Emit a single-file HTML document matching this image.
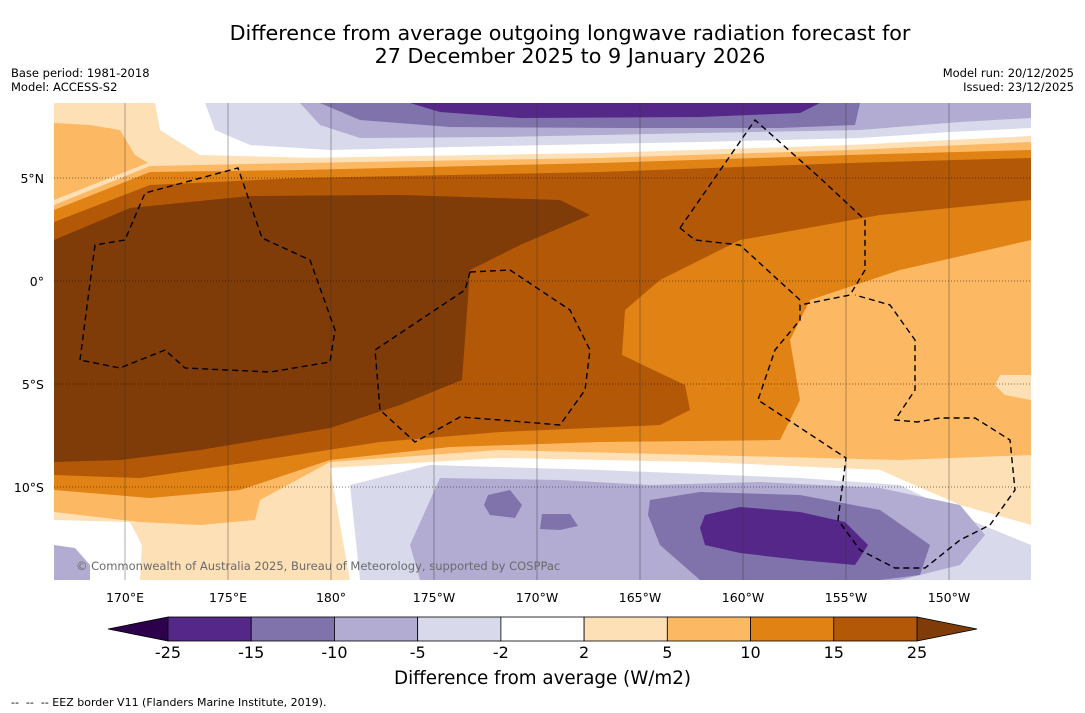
<!DOCTYPE html>
<html><head><meta charset="utf-8">
<style>
body{margin:0;background:#fff;font-family:"DejaVu Sans","Liberation Sans",sans-serif;}
#wrap{position:relative;width:1085px;height:713px;overflow:hidden;background:#fff;}
.t{position:absolute;white-space:nowrap;color:#000;}
svg text{font-family:"DejaVu Sans","Liberation Sans",sans-serif;}
</style></head><body>
<div id="wrap">
<div class="t" style="left:0;width:1140px;top:22px;text-align:center;font-size:20.7px;line-height:23px;">Difference from average outgoing longwave radiation forecast for<br>27 December 2025 to 9 January 2026</div>
<div class="t" style="left:11px;top:66px;font-size:11.5px;line-height:14px;">Base period: 1981-2018<br>Model: ACCESS-S2</div>
<div class="t" style="right:11px;top:66px;font-size:11.5px;line-height:14px;text-align:right;">Model run: 20/12/2025<br>Issued: 23/12/2025</div>
<svg id="map" width="1085" height="713" style="position:absolute;left:0;top:0;">
<defs><clipPath id="mc"><rect x="54" y="103" width="977" height="477"/></clipPath></defs>
<g clip-path="url(#mc)">
<rect x="54" y="103" width="977" height="477" fill="#ffffff"/>
<path fill="#d8daeb" d="M205,103 L1031,103 L1031,128 L950,132 L860,138 L700,142 L500,146 L330,150 L250,145 L215,130 Z"/>
<path fill="#b2abd2" d="M300,103 L1031,103 L1031,118 L960,122 L860,130 L700,133 L500,137 L360,138 L320,125 Z"/>
<path fill="#8073ac" d="M320,103 L860,103 L855,125 L780,128 L620,128 L450,127 L360,120 Z"/>
<path fill="#542788" d="M410,103 L820,103 L800,113 L700,117 L520,118 L440,112 Z"/>
<path fill="#fee0b6" d="M54,103 L155,103 L160,130 L200,155 L320,158 L54,230 Z"/>
<path fill="#ffffff" d="M54,140 L85,145 L90,175 L80,205 L54,210 Z"/>
<path fill="#fdb863" d="M54,123 L90,125 L120,130 L135,155 L160,170 L120,200 L54,215 Z"/>
<path fill="#fee0b6" d="M54,200 L150,162 L300,158 L600,153 L850,145 L1031,136 L1031,525 L960,505 L880,470 L700,462 L500,458 L330,468 L350,580 L54,580 Z"/>
<path fill="#fdb863" d="M54,205 L150,166 L300,163 L600,158 L850,150 L1031,142 L1031,455 L900,460 L700,455 L500,450 L330,462 L260,500 L255,520 L200,525 L140,522 L54,512 Z"/>
<path fill="#ffffff" d="M54,520 L130,522 L142,545 L140,580 L54,580 Z"/>
<path fill="#b2abd2" d="M54,545 L75,548 L90,565 L90,580 L54,580 Z"/>
<path fill="#e08214" d="M54,210 L150,172 L300,170 L600,163 L850,155 L1031,150 L1031,240 L900,270 L810,300 L790,340 L800,400 L780,440 L600,442 L450,447 L330,460 L240,490 L150,498 L54,490 Z"/>
<path fill="#b35806" d="M54,222 L150,185 L300,178 L600,172 L850,163 L1031,158 L1031,200 L880,215 L740,240 L660,280 L625,310 L622,355 L685,385 L690,410 L660,425 L500,432 L380,442 L250,462 L140,478 L54,475 Z"/>
<path fill="#7f3b08" d="M54,240 L130,208 L250,196 L400,195 L560,200 L590,215 L520,245 L470,270 L462,380 L400,405 L330,428 L200,450 L120,460 L54,462 Z"/>
<path fill="#fee0b6" d="M1000,375 L1031,375 L1031,400 L1005,395 L995,385 Z"/>
<path fill="#ffffff" d="M330,468 L500,458 L700,462 L880,470 L960,505 L1031,525 L1031,580 L350,580 Z"/>
<path fill="#d8daeb" d="M350,485 L430,465 L600,470 L800,478 L900,485 L970,520 L1031,545 L1031,580 L360,580 Z"/>
<path fill="#b2abd2" d="M410,545 L440,478 L560,480 L650,485 L760,482 L880,488 L960,505 L985,535 L960,565 L900,580 L420,580 Z"/>
<path fill="#8073ac" d="M650,500 L700,492 L800,495 L880,510 L930,545 L920,575 L880,580 L700,580 L660,545 L648,515 Z"/>
<path fill="#8073ac" d="M488,495 L510,490 L522,505 L515,518 L490,515 L484,505 Z"/>
<path fill="#8073ac" d="M542,514 L570,514 L578,526 L560,530 L540,529 Z"/>
<path fill="#542788" d="M705,515 L740,507 L800,512 L845,522 L868,545 L855,565 L800,560 L740,553 L705,545 L700,528 Z"/>
</g>
<g id="grid"></g>
<g fill="none" stroke="#000" stroke-width="1.4" stroke-dasharray="6,4" clip-path="url(#mc)">
<path d="M80,360 L95,245 L125,240 L145,193 L238,168 L262,238 L310,260 L335,330 L330,362 L270,372 L185,368 L165,350 L120,368 Z"/>
<path d="M470,272 L510,270 L570,310 L590,350 L585,390 L560,425 L500,420 L460,417 L415,442 L380,410 L375,350 L420,320 L465,290 Z"/>
<path d="M680,228 L755,120 L820,178 L865,220 L865,270 L850,295 L800,305 L800,320 L775,350 L758,400 L846,458 L838,520 L860,550 L895,568 L925,568 L960,540 L990,525 L1015,490 L1010,440 L975,418 L940,418 L917,422 L895,420 L915,390 L915,340 L890,305 L855,295"/>
<path d="M680,228 L695,240 L740,245 L800,300"/>
</g>
<g id="lonlabels"></g>
<g id="latlabels"></g>
<g id="cbar"></g>
</svg>
<div class="t" style="left:76px;top:559px;font-size:11.5px;color:#6a6a6a;">© Commonwealth of Australia 2025, Bureau of Meteorology, supported by COSPPac</div>
<div class="t" style="left:0;width:1085px;text-align:center;top:668px;font-size:18.3px;">Difference from average (W/m2)</div>
<div class="t" style="left:11px;top:696px;font-size:11px;">-- &nbsp;-- &nbsp;-- EEZ border V11 (Flanders Marine Institute, 2019).</div>
</div>
<script>
const lonTicks=[170,175,180,-175,-170,-165,-160,-155,-150];
const lonLabels=['170°E','175°E','180°','175°W','170°W','165°W','160°W','155°W','150°W'];
const latTicks=[5,0,-5,-10];
const latLabels=['5°N','0°','5°S','10°S'];
const cbLevels=['-25','-15','-10','-5','-2','2','5','10','15','25'];
const cbColors=['#542788','#8073ac','#b2abd2','#d8daeb','#ffffff','#fee0b6','#fdb863','#e08214','#b35806'];
const cbUnder='#2d004b', cbOver='#7f3b08';
const NS='http://www.w3.org/2000/svg';
function xLon(l){const e=l<0?l+360:l;return 125+(e-170)*20.6;}
function yLat(a){return 281-a*20.6;}
function mk(t,at,p){const e=document.createElementNS(NS,t);for(const k in at)e.setAttribute(k,at[k]);p.appendChild(e);return e;}
const grid=document.getElementById('grid');
lonTicks.forEach((l,i)=>{
 const x=xLon(l);
 const ln=mk('line',{x1:x,x2:x,y1:103,y2:580,stroke:'#333','stroke-width':0.4},grid);
 
 
 const t=mk('text',{x:x,y:602,'text-anchor':'middle','font-size':12.5},document.getElementById('lonlabels'));
 t.textContent=lonLabels[i];
 
 
});
latTicks.forEach((a,i)=>{
 const y=yLat(a);
 const ln=mk('line',{x1:54,x2:1031,y1:y,y2:y,stroke:'#000','stroke-width':0.6,'stroke-dasharray':'1,2'},grid);
 
 
 const t=mk('text',{x:44,y:y+5,'text-anchor':'end','font-size':12.5},document.getElementById('latlabels'));
 t.textContent=latLabels[i];
 
 
});
const cb=document.getElementById('cbar');
const x0=168,x1=917,y0=617,h=24,w=(x1-x0)/cbColors.length;
const under=mk('polygon',{points:`${x0},${y0} ${x0},${y0+h} 108,${y0+h/2}`,fill:cbUnder,stroke:'#000','stroke-width':0.8},cb);


const over=mk('polygon',{points:`${x1},${y0} ${x1},${y0+h} 977,${y0+h/2}`,fill:cbOver,stroke:'#000','stroke-width':0.8},cb);


cbColors.forEach((c,i)=>{
 const r=mk('rect',{x:x0+i*w,y:y0,width:w,height:h,fill:c,stroke:'#000','stroke-width':0.8},cb);
 
 
});
cbLevels.forEach((v,i)=>{
 const t=mk('text',{x:x0+i*w,y:658,'text-anchor':'middle','font-size':16},cb);
 t.textContent=v;
 
 
});
</script>
</body></html>
